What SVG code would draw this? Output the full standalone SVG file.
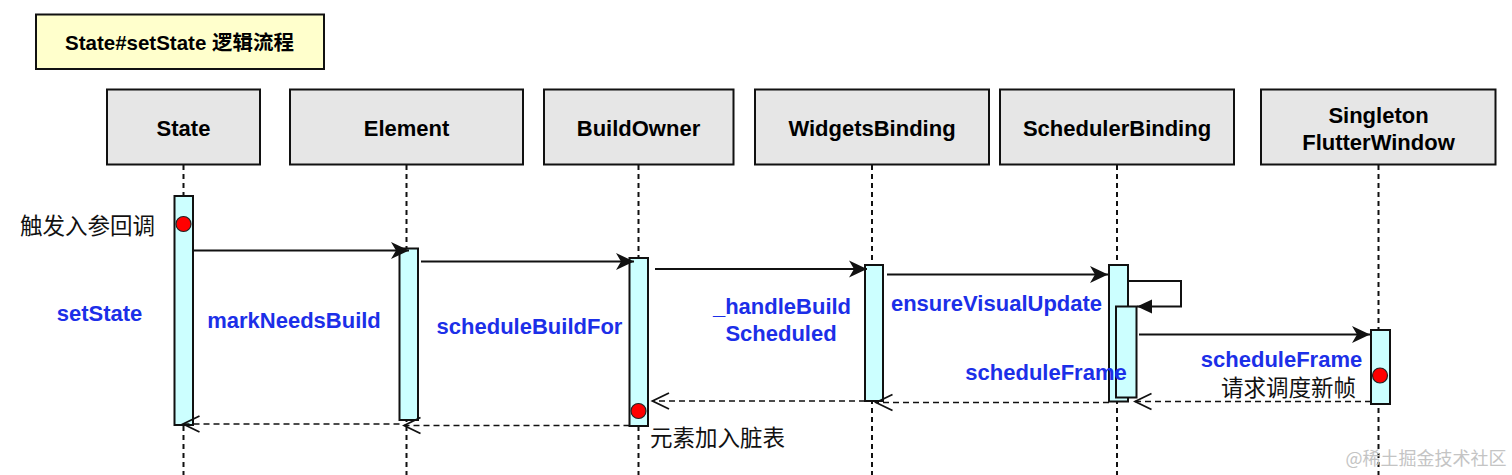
<svg xmlns="http://www.w3.org/2000/svg" width="1512" height="475" viewBox="0 0 1512 475">
<style>
.hdr{fill:#E6E6E6;stroke:#111;stroke-width:2}
.ttl{fill:#FFFFCC;stroke:#111;stroke-width:2}
.life{stroke:#111;stroke-width:2;stroke-dasharray:5 4;fill:none}
.bar{fill:#CCFFFF;stroke:#111;stroke-width:2}
.dot{fill:#FF0000;stroke:#222;stroke-width:1.2}
.msg{stroke:#111;stroke-width:2;fill:none}
.ret{stroke:#111;stroke-width:1.6;fill:none;stroke-dasharray:6 4}
.ht{font-family:"Liberation Sans",Arial,"Noto Sans CJK SC",sans-serif;font-weight:bold;font-size:22px;fill:#000;text-anchor:middle}
.tt{font-family:"Liberation Sans",Arial,"Noto Sans CJK SC",sans-serif;font-weight:bold;font-size:20.5px;fill:#000;text-anchor:middle}
.bl{font-family:"Liberation Sans",Arial,sans-serif;font-weight:bold;font-size:22px;fill:#1C2FE8;text-anchor:middle}
.cn{font-family:"Noto Sans CJK SC","Liberation Sans",sans-serif;font-size:22.5px;fill:#111;text-anchor:middle}
.wm{font-family:"Noto Sans CJK SC","Liberation Sans",sans-serif;font-size:18px;fill:#C4C4C4;text-anchor:middle}
</style>
<defs>
<marker id="classic" markerUnits="userSpaceOnUse" markerWidth="20" markerHeight="20" viewBox="0 0 20 20" refX="18" refY="10" orient="auto">
<path d="M0,1.5 L18,10 L0,18.5 L5,10 Z" fill="#111" stroke="none"/>
</marker>
<marker id="block" markerUnits="userSpaceOnUse" markerWidth="16" markerHeight="16" viewBox="0 0 16 16" refX="15" refY="8" orient="auto">
<path d="M0,1 L15,8 L0,15 Z" fill="#111" stroke="none"/>
</marker>
<marker id="open" markerUnits="userSpaceOnUse" markerWidth="20" markerHeight="20" viewBox="0 0 20 20" refX="17.5" refY="10" orient="auto">
<path d="M1,2 L17.5,10 L1,18" fill="none" stroke="#111" stroke-width="1.8" stroke-dasharray="none"/>
</marker>
</defs>
<rect width="1512" height="475" fill="#FFFFFF"/>

<g id="title">
<rect class="ttl" x="36" y="14.5" width="288" height="54.5"/>
<text class="tt" x="179.5" y="50">State#setState 逻辑流程</text>
</g>

<g id="state">
<rect class="hdr" x="107" y="89.5" width="153" height="75"/>
<text class="ht" x="183.5" y="135.5">State</text>
<line class="life" x1="183.5" y1="165" x2="183.5" y2="475"/>
<rect class="bar" x="174.5" y="196" width="18.5" height="229"/>
<circle class="dot" cx="183.5" cy="224" r="7.5"/>
</g>

<g id="element">
<rect class="hdr" x="290" y="89.5" width="233" height="75"/>
<text class="ht" x="406.5" y="135.5">Element</text>
<line class="life" x1="406.5" y1="165" x2="406.5" y2="475"/>
<rect class="bar" x="399.5" y="248.5" width="18.5" height="171.5"/>
</g>

<g id="buildowner">
<rect class="hdr" x="544" y="89.5" width="189.5" height="75"/>
<text class="ht" x="638.5" y="135.5">BuildOwner</text>
<line class="life" x1="638.5" y1="165" x2="638.5" y2="475"/>
<rect class="bar" x="629.5" y="258" width="18.5" height="168"/>
<circle class="dot" cx="638.5" cy="411" r="7.5"/>
</g>

<g id="widgetsbinding">
<rect class="hdr" x="755" y="89.5" width="234" height="75"/>
<text class="ht" x="872" y="135.5">WidgetsBinding</text>
<line class="life" x1="872" y1="165" x2="872" y2="475"/>
<rect class="bar" x="865" y="265" width="18" height="136"/>
</g>

<g id="schedulerbinding">
<rect class="hdr" x="1000" y="89.5" width="234" height="75"/>
<text class="ht" x="1117" y="135.5">SchedulerBinding</text>
<line class="life" x1="1117" y1="165" x2="1117" y2="475"/>
<rect class="bar" x="1109" y="265" width="19" height="136.5"/>
<rect class="bar" x="1116" y="306.5" width="20.5" height="91"/>
</g>

<g id="flutterwindow">
<rect class="hdr" x="1261" y="89.5" width="234.5" height="75"/>
<text class="ht" x="1378.5" y="122.5">Singleton</text>
<text class="ht" x="1378.5" y="149.5">FlutterWindow</text>
<line class="life" x1="1378.5" y1="165" x2="1378.5" y2="475"/>
<rect class="bar" x="1371" y="330" width="19" height="74"/>
<circle class="dot" cx="1380" cy="375.5" r="7.5"/>
</g>

<g id="connectors">
<path class="msg" d="M193,250.5 H409" marker-end="url(#classic)"/>
<path class="msg" d="M421,261.5 H634" marker-end="url(#classic)"/>
<path class="msg" d="M655,269 H867" marker-end="url(#classic)"/>
<path class="msg" d="M887,274.5 H1108" marker-end="url(#classic)"/>
<path class="msg" d="M1128,281 H1181 V306.5 H1137" marker-end="url(#block)"/>
<path class="msg" d="M1139,334.5 H1370" marker-end="url(#classic)"/>
<path class="ret" d="M1371,401.5 H1135" marker-end="url(#open)"/>
<path class="ret" d="M1109,402.5 H876" marker-end="url(#open)"/>
<path class="ret" d="M865,401 H652.5" marker-end="url(#open)"/>
<path class="ret" d="M629.5,425.5 H404" marker-end="url(#open)"/>
<path class="ret" d="M399.5,424 H183" marker-end="url(#open)"/>
</g>

<g id="labels">
<text class="cn" x="87.5" y="233.5">触发入参回调</text>
<text class="bl" x="99.5" y="321">setState</text>
<text class="bl" x="294" y="328">markNeedsBuild</text>
<text class="bl" x="529.5" y="334">scheduleBuildFor</text>
<text class="bl" x="782" y="314">_handleBuild</text>
<text class="bl" x="781" y="340.5">Scheduled</text>
<text class="bl" x="996.5" y="311">ensureVisualUpdate</text>
<text class="bl" x="1046" y="380">scheduleFrame</text>
<text class="bl" x="1281.5" y="367">scheduleFrame</text>
<text class="cn" x="1288.5" y="396">请求调度新帧</text>
<text class="cn" x="717.5" y="445.5">元素加入脏表</text>
<text class="wm" x="1426" y="465">@稀土掘金技术社区</text>
</g>
</svg>
